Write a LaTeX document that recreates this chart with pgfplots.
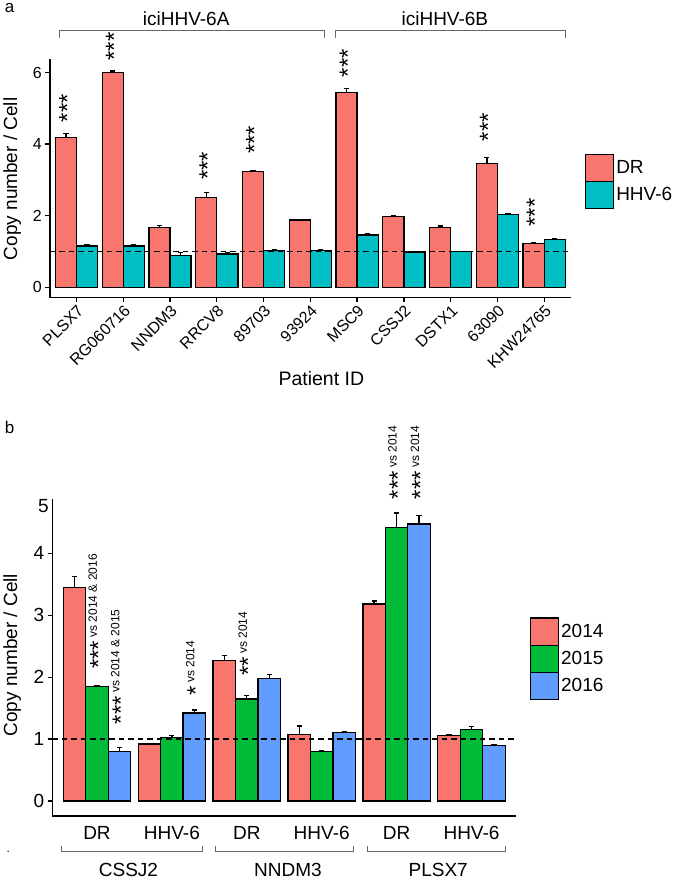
\documentclass[border=0pt]{standalone}
\usepackage{fontspec}
\setmainfont{Liberation Sans}
\usepackage{pgfplots}
\pgfplotsset{compat=1.18}
\definecolor{cDR}{HTML}{F8766D}
\definecolor{cHV}{HTML}{00BFC4}
\definecolor{cA}{HTML}{F8766D}
\definecolor{cB}{HTML}{00BA38}
\definecolor{cC}{HTML}{619CFF}
\definecolor{brk}{HTML}{666666}
\newcommand{\fs}[1]{\fontsize{#1}{#1}\selectfont}
\newcommand{\stars}[1]{\raisebox{-9.6pt}{\fs{24}#1}}
\tikzset{sig/.style={rotate=90, anchor=base west, inner sep=0pt, xshift=4.3pt}}
\pgfplotsset{
  barbase/.style={draw=black, line width=1.3pt,
    error bars/y dir=plus, error bars/y explicit,
    error bars/error bar style={line width=1.3pt, black},
    error bars/error mark options={rotate=90, mark size=2.6pt, line width=1.3pt, black}},
  common/.style={scale only axis, ybar, clip=false,
    axis x line*=bottom, axis y line*=left,
    axis line style={line width=1.3pt, -},
    tick align=outside, major tick length=4.5pt,
    tick style={line width=1.3pt, black},
    /pgf/number format/assume math mode=true,
    legend image code/.code={\draw[##1, line width=1.3pt] (0pt,-13.6pt) rectangle (28pt,13.6pt);},
    legend style={draw=none, fill=none, inner sep=0pt, outer sep=0pt, row sep=-1.3pt,
      /tikz/every even column/.append style={column sep=3pt}},
    legend cell align=left}
}
\begin{document}
\begin{tikzpicture}[x=1pt,y=1pt]
\path (0,0) rectangle (675,879);
% ---------------- Panel a ----------------
\begin{axis}[common,
  at={(46.7pt,581.3pt)}, anchor=south west, width=520pt, height=237.7pt,
  xmin=-0.57, xmax=10.55, ymin=-0.29, ymax=6.35,
  bar width=0.45,
  xtick={0,...,10},
  xticklabels={PLSX7,RG060716,NNDM3,RRCV8,89703,93924,MSC9,CSSJ2,DSTX1,63090,KHW24765},
  x tick label style={rotate=45, anchor=north east, font=\fs{16}, inner sep=1pt},
  ytick={0,2,4,6},
  y tick label style={font=\fs{16}},
  ylabel={Copy number / Cell},
  ylabel style={at={(axis description cs:-0.0725,0.5)}, anchor=center, font=\fs{19}},
  xlabel={Patient ID},
  xlabel style={at={(axis description cs:0.522,-0.339)}, anchor=center, font=\fs{19.5}},
  legend style={at={(1.029,0.489)}, anchor=west, font=\fs{19}},
]
\addplot[barbase, fill=cDR, bar shift=-0.225] coordinates {
 (0,4.19) +- (0,0.11)
 (1,6.00) +- (0,0.04)
 (2,1.68) +- (0,0.04)
 (3,2.50) +- (0,0.15)
 (4,3.23) +- (0,0.03)
 (5,1.88) +- (0,0.02)
 (6,5.44) +- (0,0.12)
 (7,1.97) +- (0,0.03)
 (8,1.68) +- (0,0.03)
 (9,3.46) +- (0,0.16)
 (10,1.22) +- (0,0.02)
};
\addlegendentry{DR}
\addplot[barbase, fill=cHV, bar shift=0.225] coordinates {
 (0,1.15) +- (0,0.03)
 (1,1.15) +- (0,0.03)
 (2,0.88) +- (0,0.10)
 (3,0.93) +- (0,0.03)
 (4,1.02) +- (0,0.03)
 (5,1.02) +- (0,0.03)
 (6,1.46) +- (0,0.03)
 (7,0.99) +- (0,0.01)
 (8,1.00) +- (0,0.01)
 (9,2.04) +- (0,0.02)
 (10,1.34) +- (0,0.03)
};
\addlegendentry{HHV-6}
\addplot[sharp plot, dashed, dash pattern=on 5.5pt off 4pt, line width=1.3pt, black, forget plot]
  coordinates {(-0.57,1) (10.55,1)};
\node[sig] at (axis cs:-0.225,4.49) {\stars{***}};
\node[sig] at (axis cs:0.775,6.21) {\stars{***}};
\node[sig] at (axis cs:2.775,2.88) {\stars{***}};
\node[sig] at (axis cs:3.775,3.60) {\stars{***}};
\node[sig] at (axis cs:5.775,5.74) {\stars{***}};
\node[sig] at (axis cs:8.775,3.96) {\stars{***}};
\node[sig] at (axis cs:9.775,1.57) {\stars{***}};
\end{axis}
% axis lines panel a
\draw[line width=1.3pt, black, line cap=rect] (46.7,819) -- (46.7,581.3) -- (566.7,581.3);
% brackets panel a
\draw[brk, line width=1pt] (56,841.3) -- (56,848) -- (321,848) -- (321,841.3);
\draw[brk, line width=1pt] (332.7,841.3) -- (332.7,848) -- (562.3,848) -- (562.3,841.3);
\node[inner sep=0pt, font=\fs{19}] at (183,859.8) {iciHHV-6A};
\node[inner sep=0pt, font=\fs{19}] at (441.7,859.8) {iciHHV-6B};
\node[inner sep=0pt, font=\fs{17}] at (6.5,871) {a};
\node[inner sep=0pt, font=\fs{17}] at (6.5,452) {b};
\node[inner sep=0pt, font=\fs{12}] at (5,27) {.};
% ---------------- Panel b ----------------
\begin{axis}[common,
  at={(49pt,63pt)}, anchor=south west, width=463.3pt, height=316.7pt,
  xmin=-0.598, xmax=5.587, ymin=-0.24, ymax=4.87,
  bar width=0.3,
  xtick={0,...,5},
  xticklabels={DR,HHV-6,DR,HHV-6,DR,HHV-6},
  x tick style={draw=none},
  x tick label style={font=\fs{19}, yshift=-2pt},
  ytick={0,1,2,3,4},
  extra y ticks={4.76}, extra y tick labels={5},
  extra y tick style={major tick length=0pt},
  y tick label style={font=\fs{19}},
  ylabel={Copy number / Cell},
  ylabel style={at={(axis description cs:-0.0863,0.508)}, anchor=center, font=\fs{19}},
  legend style={at={(1.031,0.496)}, anchor=west, font=\fs{19}},
]
\addplot[barbase, fill=cA, bar shift=-0.3] coordinates {
 (0,3.45) +- (0,0.17)
 (1,0.92) +- (0,0.01)
 (2,2.27) +- (0,0.08)
 (3,1.08) +- (0,0.13)
 (4,3.18) +- (0,0.05)
 (5,1.06) +- (0,0.02)
};
\addlegendentry{2014}
\addplot[barbase, fill=cB, bar shift=0] coordinates {
 (0,1.85) +- (0,0.02)
 (1,1.03) +- (0,0.03)
 (2,1.65) +- (0,0.05)
 (3,0.80) +- (0,0.02)
 (4,4.41) +- (0,0.24)
 (5,1.16) +- (0,0.04)
};
\addlegendentry{2015}
\addplot[barbase, fill=cC, bar shift=0.3] coordinates {
 (0,0.80) +- (0,0.07)
 (1,1.42) +- (0,0.05)
 (2,1.98) +- (0,0.06)
 (3,1.11) +- (0,0.01)
 (4,4.47) +- (0,0.14)
 (5,0.90) +- (0,0.01)
};
\addlegendentry{2016}
\addplot[sharp plot, dashed, dash pattern=on 5.5pt off 4pt, line width=1.3pt, black, forget plot]
  coordinates {(-0.598,1) (5.587,1)};
\node[sig] at (axis cs:0,2.06) {\stars{***}\fs{12}\ vs 2014 \& 2016};
\node[sig] at (axis cs:0.3,1.17) {\stars{***}\fs{12}\ vs 2014 \& 2015};
\node[sig] at (axis cs:1.3,1.63) {\stars{*}\fs{12}\ vs 2014};
\node[sig] at (axis cs:2,1.95) {\stars{**}\fs{12}\ vs 2014};
\node[sig] at (axis cs:4,4.80) {\stars{***}\fs{12}\ vs 2014};
\node[sig] at (axis cs:4.3,4.80) {\stars{***}\fs{12}\ vs 2014};
\end{axis}
% axis lines panel b
\draw[line width=1.3pt, black, line cap=rect] (49,379.7) -- (49,63) -- (512.3,63);
% brackets panel b
\draw[brk, line width=1pt] (58.3,32.5) -- (58.3,27) -- (199.3,27) -- (199.3,32.5);
\draw[brk, line width=1pt] (212,32.5) -- (212,27) -- (350.5,27) -- (350.5,32.5);
\draw[brk, line width=1pt] (364,32.5) -- (364,27) -- (502.3,27) -- (502.3,32.5);
\node[inner sep=0pt, font=\fs{19}] at (125.3,9) {CSSJ2};
\node[inner sep=0pt, font=\fs{19}] at (284.7,9) {NNDM3};
\node[inner sep=0pt, font=\fs{19}] at (435,9) {PLSX7};
\end{tikzpicture}
\end{document}
